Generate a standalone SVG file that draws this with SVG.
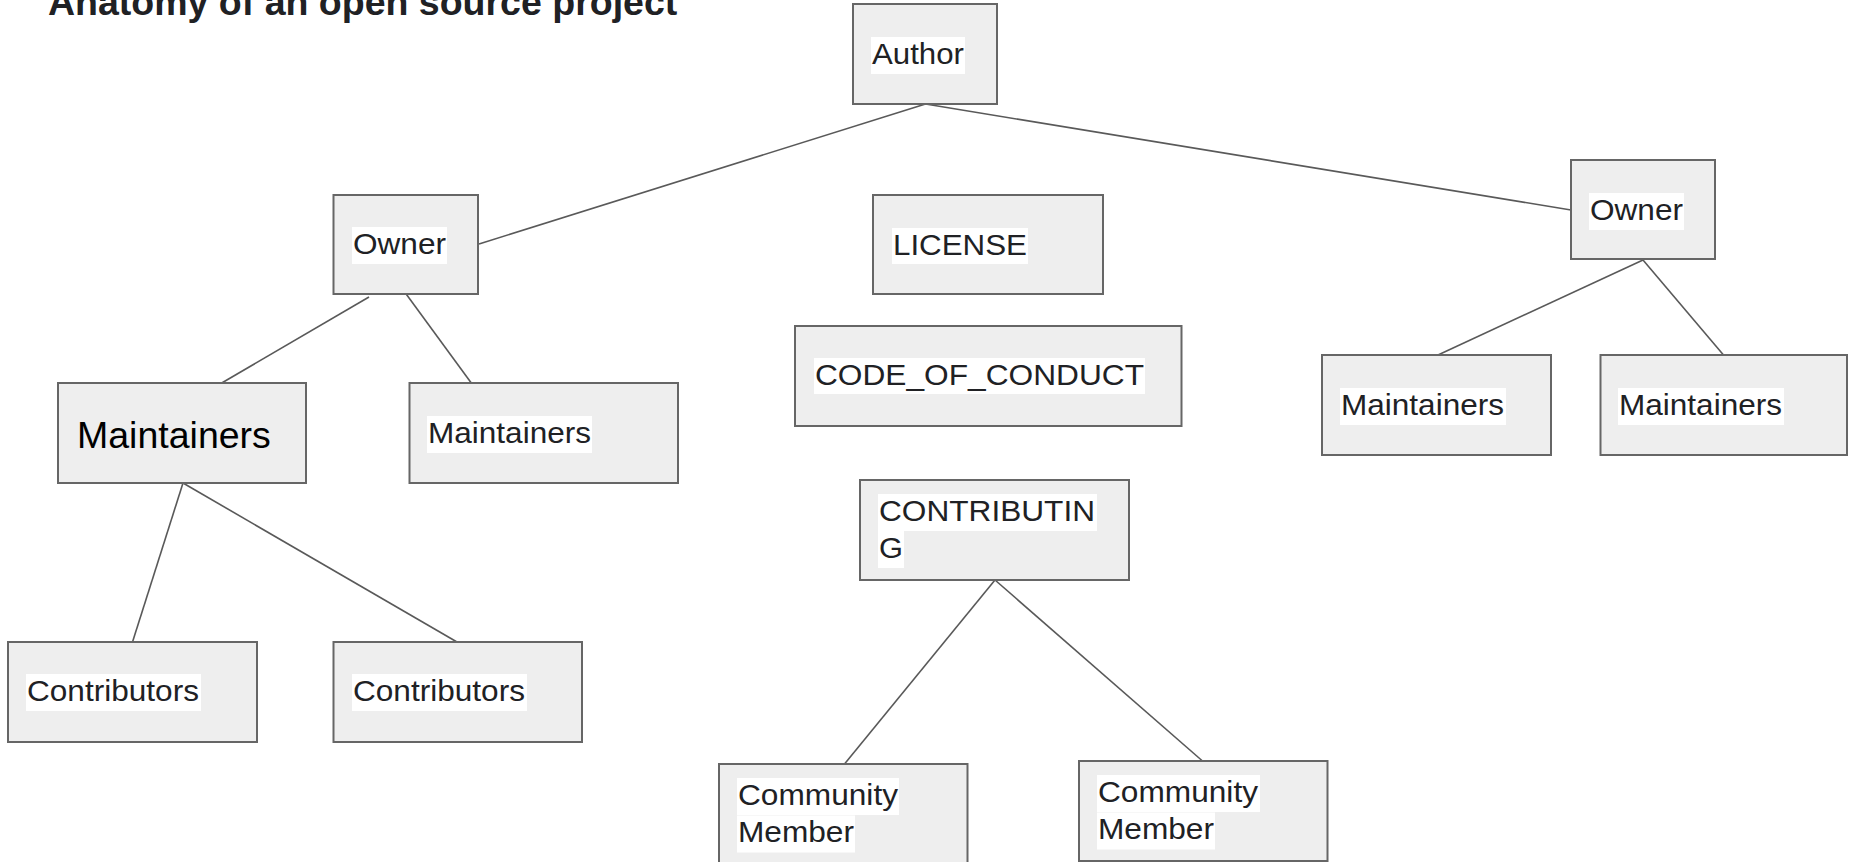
<svg xmlns="http://www.w3.org/2000/svg" width="1849" height="862" viewBox="0 0 1849 862">
<style>
.box{fill:#eeeeee;stroke:#666666;stroke-width:2}
.hl{fill:#ffffff}
.t{font-family:"Liberation Sans",Arial,sans-serif;font-size:29px;fill:#202124}
.big{font-family:"Liberation Sans",Arial,sans-serif;font-size:37.5px;fill:#000000}
.title{font-family:"Liberation Sans",Arial,sans-serif;font-size:37.5px;font-weight:bold;fill:#202124}
.c line{stroke:#595959;stroke-width:1.6}
</style>
<rect width="1849" height="862" fill="#ffffff"/>
<text class="title" x="48" y="15">Anatomy of an open source project</text>
<g class="c" id="connectors">
<line x1="925.5" y1="104" x2="479" y2="244"/>
<line x1="925.5" y1="104" x2="1571" y2="210"/>
<line x1="369" y1="297" x2="220" y2="384"/>
<line x1="406.5" y1="294.5" x2="472" y2="384"/>
<line x1="1643" y1="260" x2="1438" y2="355"/>
<line x1="1643" y1="260" x2="1723.5" y2="355"/>
<line x1="183" y1="483" x2="132.5" y2="642"/>
<line x1="183" y1="483" x2="457" y2="642"/>
<line x1="995" y1="580" x2="844.5" y2="764"/>
<line x1="995" y1="580" x2="1202.5" y2="761"/>
</g>
<g id="author">
<rect class="box" x="853" y="4" width="144" height="100"/>
<rect class="hl" x="871" y="37" width="94" height="37"/>
<text class="t" x="872" y="63.5" textLength="92" lengthAdjust="spacingAndGlyphs">Author</text>
</g>
<g id="owner-left">
<rect class="box" x="333.5" y="195" width="144.5" height="99"/>
<rect class="hl" x="352" y="227" width="95" height="37"/>
<text class="t" x="353" y="253.5" textLength="93" lengthAdjust="spacingAndGlyphs">Owner</text>
</g>
<g id="owner-right">
<rect class="box" x="1571" y="160" width="144" height="99"/>
<rect class="hl" x="1589" y="193" width="95" height="37"/>
<text class="t" x="1590" y="219.5" textLength="93" lengthAdjust="spacingAndGlyphs">Owner</text>
</g>
<g id="license">
<rect class="box" x="873" y="195" width="230" height="99"/>
<rect class="hl" x="892" y="228" width="136" height="36"/>
<text class="t" x="893" y="254.5" textLength="134" lengthAdjust="spacingAndGlyphs">LICENSE</text>
</g>
<g id="code-of-conduct">
<rect class="box" x="795" y="326" width="386.5" height="100"/>
<rect class="hl" x="814" y="358" width="331" height="36"/>
<text class="t" x="815" y="384.5" textLength="329" lengthAdjust="spacingAndGlyphs">CODE_OF_CONDUCT</text>
</g>
<g id="maintainers-big">
<rect class="box" x="58" y="383" width="248" height="100"/>
<text class="big" x="77" y="447.5">Maintainers</text>
</g>
<g id="maintainers-left">
<rect class="box" x="409.5" y="383" width="268.5" height="100"/>
<rect class="hl" x="427" y="416" width="165" height="37"/>
<text class="t" x="428" y="442.5" textLength="163" lengthAdjust="spacingAndGlyphs">Maintainers</text>
</g>
<g id="maintainers-right-1">
<rect class="box" x="1322" y="355" width="229" height="100"/>
<rect class="hl" x="1340" y="388" width="166" height="37"/>
<text class="t" x="1341" y="414.5" textLength="163" lengthAdjust="spacingAndGlyphs">Maintainers</text>
</g>
<g id="maintainers-right-2">
<rect class="box" x="1600.5" y="355" width="246.5" height="100"/>
<rect class="hl" x="1618" y="388" width="166" height="37"/>
<text class="t" x="1619" y="414.5" textLength="163" lengthAdjust="spacingAndGlyphs">Maintainers</text>
</g>
<g id="contributors-1">
<rect class="box" x="8" y="642" width="249" height="100"/>
<rect class="hl" x="26" y="674" width="175" height="37"/>
<text class="t" x="27" y="700.5" textLength="172" lengthAdjust="spacingAndGlyphs">Contributors</text>
</g>
<g id="contributors-2">
<rect class="box" x="333.5" y="642" width="248.5" height="100"/>
<rect class="hl" x="352" y="674" width="175" height="37"/>
<text class="t" x="353" y="700.5" textLength="172" lengthAdjust="spacingAndGlyphs">Contributors</text>
</g>
<g id="contributing">
<rect class="box" x="860" y="480" width="269" height="100"/>
<rect class="hl" x="878" y="494" width="219" height="37"/>
<rect class="hl" x="878" y="531" width="26" height="37"/>
<text class="t" x="879" y="520.5" textLength="216" lengthAdjust="spacingAndGlyphs">CONTRIBUTIN</text>
<text class="t" x="879" y="557.5" textLength="24" lengthAdjust="spacingAndGlyphs">G</text>
</g>
<g id="community-member-1">
<rect class="box" x="719" y="764" width="248.5" height="102"/>
<rect class="hl" x="737" y="778" width="162" height="37"/>
<rect class="hl" x="737" y="815.5" width="118" height="37"/>
<text class="t" x="738" y="804.5" textLength="160" lengthAdjust="spacingAndGlyphs">Community</text>
<text class="t" x="738" y="842" textLength="116" lengthAdjust="spacingAndGlyphs">Member</text>
</g>
<g id="community-member-2">
<rect class="box" x="1079" y="761" width="248.5" height="100"/>
<rect class="hl" x="1097" y="775" width="163" height="37"/>
<rect class="hl" x="1097" y="812.5" width="118" height="37"/>
<text class="t" x="1098" y="801.5" textLength="160" lengthAdjust="spacingAndGlyphs">Community</text>
<text class="t" x="1098" y="839" textLength="116" lengthAdjust="spacingAndGlyphs">Member</text>
</g>
</svg>
